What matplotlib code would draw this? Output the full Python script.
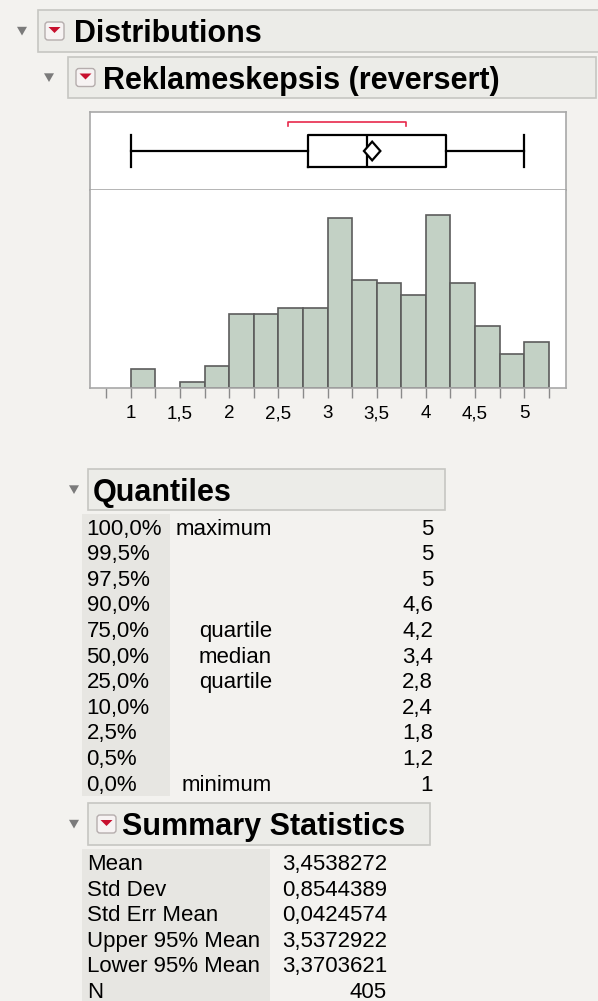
import matplotlib
matplotlib.use("Agg")
import matplotlib.pyplot as plt
from matplotlib.patches import Rectangle, Polygon, FancyBboxPatch
from matplotlib.transforms import blended_transform_factory

# ---- data -------------------------------------------------------------
variable_name = "Reklameskepsis (reversert)"

bin_left = [1.0, 1.25, 1.5, 1.75, 2.0, 2.25, 2.5, 2.75, 3.0, 3.25, 3.5,
            3.75, 4.0, 4.25, 4.5, 4.75, 5.0]
bin_width = 0.25
bin_counts = [6, 0, 2, 7, 24, 24, 26, 26, 55, 35, 34, 30, 56, 34, 20, 11, 15]

quantile_levels = ["100,0%", "99,5%", "97,5%", "90,0%", "75,0%", "50,0%",
                   "25,0%", "10,0%", "2,5%", "0,5%", "0,0%"]
quantile_names = ["maximum", "", "", "", "quartile", "median", "quartile",
                  "", "", "", "minimum"]
quantile_values = [5, 5, 5, 4.6, 4.2, 3.4, 2.8, 2.4, 1.8, 1.2, 1]

summary_labels = ["Mean", "Std Dev", "Std Err Mean", "Upper 95% Mean",
                  "Lower 95% Mean", "N"]
summary_values = [3.4538272, 0.8544389, 0.0424574, 3.5372922, 3.3703621, 405]

shortest_half = [2.6, 3.8]

tick_values = [1, 1.5, 2, 2.5, 3, 3.5, 4, 4.5, 5]
tick_labels = ["1", "1,5", "2", "2,5", "3", "3,5", "4", "4,5", "5"]

# ---- styling ----------------------------------------------------------
W, H = 598, 1001
BG = "#f3f2ef"
HEADER_FILL = "#ecece8"
HEADER_EDGE = "#c6c6c2"
FRAME = "#a8a8a8"
BAR_FILL = "#c3d1c5"
BAR_EDGE = "#5c5c5c"
TABLE_FS = 16
plt.rcParams["font.family"] = ["Liberation Sans", "DejaVu Sans"]

fig = plt.figure(figsize=(W / 100, H / 100), dpi=100, facecolor=BG)
bg = fig.add_axes([0, 0, 1, 1])
bg.set_xlim(0, W)
bg.set_ylim(H, 0)
bg.axis("off")
bg.set_facecolor(BG)


def fmt(v, decimals=None):
    if decimals is None:
        s = f"{v:g}"
    else:
        s = f"{v:.{decimals}f}"
    return s.replace(".", ",")


def disclosure(cx, cy, size=10):
    bg.add_patch(Polygon([(cx - size / 2, cy - size * 0.42),
                          (cx + size / 2, cy - size * 0.42),
                          (cx, cy + size * 0.45)],
                         closed=True, facecolor="#7b7b7b", edgecolor="none"))


def menu_icon(x0, y0, w=19, h=18):
    bg.add_patch(FancyBboxPatch((x0, y0), w, h,
                                boxstyle="round,pad=0,rounding_size=3",
                                facecolor="#f7f3f3", edgecolor="#b5adad",
                                linewidth=1))
    cx = x0 + w / 2
    cy = y0 + h / 2
    bg.add_patch(Polygon([(cx - 6, cy - 4), (cx + 6, cy - 4), (cx, cy + 2)],
                         closed=True, facecolor="#c8102e", edgecolor="none"))


def header(x0, y0, x1, y1, text, text_x, tri_x, icon_x=None):
    bg.add_patch(Rectangle((x0, y0), x1 - x0, y1 - y0, facecolor=HEADER_FILL,
                           edgecolor=HEADER_EDGE, linewidth=1.2))
    cy = (y0 + y1) / 2
    disclosure(tri_x, cy)
    if icon_x is not None:
        menu_icon(icon_x, cy - 9)
    bg.text(text_x, cy + 11, text, fontsize=22, fontweight="bold",
            ha="left", va="baseline", color="black")


# ---- report headers ---------------------------------------------------
header(38, 10, 602, 52, "Distributions", 74, 22, icon_x=45)
header(68, 57, 596, 98, variable_name, 103, 49, icon_x=76)

# ---- plot panels ------------------------------------------------------
x_lo, x_hi = 0.586, 5.424
px_l, px_r = 90, 566
box_top, box_bot = 112, 190
hist_bot = 388

ax_box = fig.add_axes([px_l / W, 1 - box_bot / H, (px_r - px_l) / W,
                       (box_bot - box_top) / H])
ax_hist = fig.add_axes([px_l / W, 1 - hist_bot / H, (px_r - px_l) / W,
                        (hist_bot - box_bot) / H])

for ax in (ax_box, ax_hist):
    ax.set_facecolor("white")
    ax.set_xlim(x_lo, x_hi)
    for sp in ax.spines.values():
        sp.set_color(FRAME)
        sp.set_linewidth(1.2)

# histogram
ax_hist.spines["top"].set_visible(False)
ax_hist.set_ylim(0, 64)
for left, count in zip(bin_left, bin_counts):
    if count > 0:
        ax_hist.bar(left, count, width=bin_width, align="edge",
                    color=BAR_FILL, edgecolor=BAR_EDGE, linewidth=1.2,
                    zorder=2)
ax_hist.set_yticks([])
ax_hist.set_xticks(tick_values)
ax_hist.set_xticklabels([])
ax_hist.set_xticks([b for b in bin_left if b not in tick_values] +
                   [bin_left[0] - bin_width, bin_left[-1] + bin_width],
                   minor=True)
ax_hist.tick_params(axis="x", which="both", length=7, width=1,
                    color="#8a8a8a")
# tick labels placed on a common baseline below the axis
lab_tr = blended_transform_factory(ax_hist.transData, bg.transData)
for tv, tl in zip(tick_values, tick_labels):
    ax_hist.text(tv, 418.5, tl, transform=lab_tr, fontsize=13.5,
                 ha="center", va="baseline", color="black", clip_on=False)

# outlier box plot
q_max, q_q3, q_med, q_q1, q_min = (quantile_values[0], quantile_values[4],
                                   quantile_values[5], quantile_values[6],
                                   quantile_values[10])
stats = [{"med": q_med, "q1": q_q1, "q3": q_q3,
          "whislo": q_min, "whishi": q_max, "fliers": []}]
line_kw = dict(color="black", linewidth=1.6)
ax_box.bxp(stats, positions=[0.5], widths=0.4, vert=False,
           capwidths=[0.4], showfliers=False, manage_ticks=False,
           boxprops=line_kw, whiskerprops=line_kw, capprops=line_kw,
           medianprops=line_kw, patch_artist=False)
ax_box.set_ylim(0, 1)

mean_v, upper_v, lower_v = summary_values[0], summary_values[3], summary_values[4]
dh = 0.12
ax_box.add_patch(Polygon([(lower_v, 0.5), (mean_v, 0.5 + dh),
                          (upper_v, 0.5), (mean_v, 0.5 - dh)], closed=True,
                         facecolor="white", edgecolor="black", linewidth=1.6,
                         zorder=3))
ax_box.plot([shortest_half[0], shortest_half[0], shortest_half[1],
             shortest_half[1]], [0.82, 0.868, 0.868, 0.82],
            color="#e8294b", linewidth=1.2)
ax_box.set_xticks([])
ax_box.set_yticks([])

# ---- quantiles table --------------------------------------------------
header(88, 469, 445, 510, "Quantiles", 93, 74)
row0, row_step = 526.7, 25.6
n_q = len(quantile_levels)
bg.add_patch(Rectangle((82, row0 - 13), 88, row_step * n_q + 1,
                       facecolor="#e7e6e2", edgecolor="none"))
for i, (lvl, name, val) in enumerate(zip(quantile_levels, quantile_names,
                                         quantile_values)):
    yb = row0 + i * row_step + 8
    bg.text(86.5, yb, lvl, fontsize=TABLE_FS, ha="left", va="baseline")
    if name:
        bg.text(272, yb, name, fontsize=TABLE_FS, ha="right", va="baseline")
    bg.text(433, yb, fmt(val), fontsize=TABLE_FS, ha="right", va="baseline")

# ---- summary statistics table -----------------------------------------
header(88, 803, 430, 845, "Summary Statistics", 122, 74, icon_x=97)
row0s = 862
bg.add_patch(Rectangle((82, row0s - 13), 188, row_step * len(summary_labels) + 4,
                       facecolor="#e7e6e2", edgecolor="none"))
for i, (lab, val) in enumerate(zip(summary_labels, summary_values)):
    yb = row0s + i * row_step + 8
    bg.text(87, yb, lab, fontsize=TABLE_FS, ha="left", va="baseline")
    txt = str(val) if isinstance(val, int) else fmt(val, 7)
    bg.text(387, yb, txt, fontsize=TABLE_FS, ha="right", va="baseline")

fig.savefig("out.png", dpi=100, facecolor=BG)
